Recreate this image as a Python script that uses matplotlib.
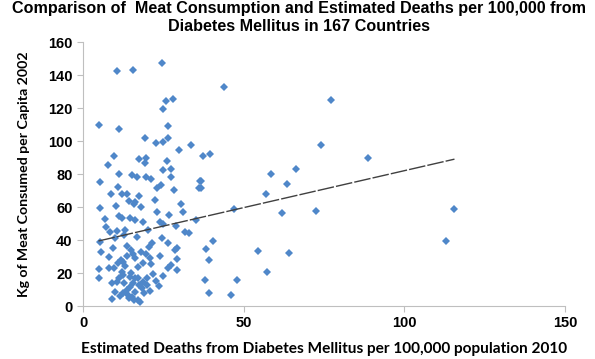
import numpy as np
import matplotlib
matplotlib.use('Agg')
import matplotlib.pyplot as plt

# values
deaths = [10.5, 15.7, 24.7, 4.9, 11.1, 25.9, 28.0, 25.0, 26.5, 19.4, 26.3,
          44.0, 77.3, 74.0, 37.3, 39.6, 58.6, 66.3, 63.5, 36.8, 88.6, 115.6, 113.0,
          36.8, 57.1, 47.1, 62.0, 72.4, 40.6, 38.3, 39.2, 54.5, 64.0, 57.3, 37.9, 47.9, 39.3, 46.0,
          22.8, 24.8, 29.9, 33.6, 9.6, 7.9, 17.5, 19.5, 19.4, 26.1, 25.0, 27.3, 11.2, 15.2, 16.7,
          19.6, 21.3, 27.4, 5.2, 11.0, 24.2, 23.0, 28.3, 36.1, 36.4, 8.6, 12.2, 13.7, 17.5, 16.2,
          15.8, 5.2, 10.3, 23.0, 26.7, 31.2, 6.9, 11.2, 12.0, 14.6,
          16.2, 18.8, 24.0, 25.0, 8.5, 10.5, 13.1, 20.3, 28.9, 5.3, 10.0, 9.4, 5.5, 15.0, 18.0,
          19.7, 20.7, 24.0, 26.3, 29.3, 28.7, 29.3, 13.6, 16.2, 12.4, 21.2, 5.0, 5.1, 8.2, 9.8,
          12.0, 12.6, 11.3, 10.5, 9.1, 10.0, 14.6, 16.2, 15.7, 14.6, 13.6, 12.4, 11.5, 14.1, 15.4,
          16.2, 17.5, 18.3, 17.2, 17.8, 19.8, 18.8, 16.0, 14.4, 22.7, 25.0, 26.6, 27.3, 29.2,
          19.8, 17.2, 13.0, 11.8, 14.9, 17.0, 18.6, 21.8, 20.9, 12.9, 15.6, 10.9, 19.1, 23.6,
          9.0, 13.8, 16.9, 21.5, 7.2, 22.3, 30.5, 33.0, 14.2, 18.1, 12.8, 24.6, 8.0, 20.4,
          31.8, 35.2]
meat = [142.6, 143.0, 147.0, 110.0, 107.0, 124.4, 125.6, 119.6, 109.0, 102.0, 101.6,
        132.5, 125.0, 97.6, 91.0, 92.0, 80.0, 83.0, 73.8, 75.8, 89.7, 58.6, 39.2,
        71.3, 67.9, 59.0, 56.4, 57.4, 39.4, 34.5, 28.0, 33.1, 32.3, 20.8, 15.6, 15.6, 8.1, 6.7,
        98.6, 99.6, 94.7, 97.4, 91.0, 85.5, 89.0, 90.0, 86.5, 87.7, 82.6, 83.0, 80.2, 79.4, 78.0,
        78.4, 76.8, 78.4, 75.0, 72.0, 73.3, 71.3, 70.3, 71.3, 76.0, 68.0, 68.0, 68.0, 66.9, 63.2,
        61.8, 59.6, 60.8, 57.2, 55.0, 57.0, 52.9, 54.5, 53.2, 53.2,
        52.0, 50.7, 50.7, 50.0, 45.0, 45.5, 46.2, 46.0, 48.5, 39.0, 41.0, 35.0, 32.5, 34.1, 32.9,
        31.3, 28.9, 30.1, 38.2, 35.3, 34.1, 28.5, 30.5, 28.9, 26.8, 25.5, 22.2, 16.8, 22.8, 22.8,
        20.8, 18.8, 16.8, 14.7, 13.8, 8.7, 17.8, 16.8, 13.8, 11.7, 9.7, 7.7, 6.1, 6.7, 5.6,
        8.7, 12.7, 10.7, 3.6, 2.2, 12.7, 14.7, 3.6, 4.7, 15.2, 18.2, 22.8, 24.8, 21.8,
        16.8, 16.8, 24.0, 28.0, 20.0, 23.5, 26.0, 19.5, 9.0, 14.0, 31.5, 26.0, 8.0, 12.0,
        4.0, 36.5, 42.0, 38.0, 48.0, 64.0, 62.0, 44.0, 63.5, 60.0, 43.0, 41.0, 30.0, 36.0,
        45.0, 52.0]

trend_x = [4.8, 115.6]
trend_y = [39.4, 89.0]

x_ticks = [0, 50, 100, 150]
y_ticks = [0, 20, 40, 60, 80, 100, 120, 140, 160]

title = 'Comparison of  Meat Consumption and Estimated Deaths per 100,000 from\nDiabetes Mellitus in 167 Countries'
xlabel = 'Estimated Deaths from Diabetes Mellitus per 100,000 population 2010'
ylabel = 'Kg of Meat Consumed per Capita 2002'

fig = plt.figure(figsize=(5.95, 3.59), dpi=100)
ax = fig.add_axes([0.1395, 0.1476, 0.8101, 0.7354])

ax.plot(deaths, meat, linestyle='none', marker='D', markersize=4.5,
        color='#4f87c9', markeredgewidth=0)
ax.plot(trend_x, trend_y, color='#404040', linewidth=1.0, dashes=(12, 1.5))

ax.set_xlim(0, 150)
ax.set_ylim(0, 160)
ax.set_xticks(x_ticks)
ax.set_yticks(y_ticks)
ax.tick_params(axis='both', colors='#bfbfbf', length=4, width=0.8, labelcolor='black')
for lab in ax.get_xticklabels() + ax.get_yticklabels():
    lab.set_fontfamily('Liberation Sans')
    lab.set_fontweight('bold')
    lab.set_fontsize(10.5)

for s in ['top', 'right']:
    ax.spines[s].set_visible(False)
for s in ['left', 'bottom']:
    ax.spines[s].set_color('#bfbfbf')
    ax.spines[s].set_linewidth(0.8)

fig.text(0.502, 0.997, title, ha='center', va='top', fontsize=11.6,
         fontweight='bold', family='Liberation Sans', linespacing=1.25)
ax.set_xlabel(xlabel, fontsize=11.1, fontweight='bold', family='Lato', labelpad=8)
ax.set_ylabel(ylabel, fontsize=10.2, fontweight='bold', family='Lato', labelpad=13)

fig.savefig('out.png', dpi=100)
